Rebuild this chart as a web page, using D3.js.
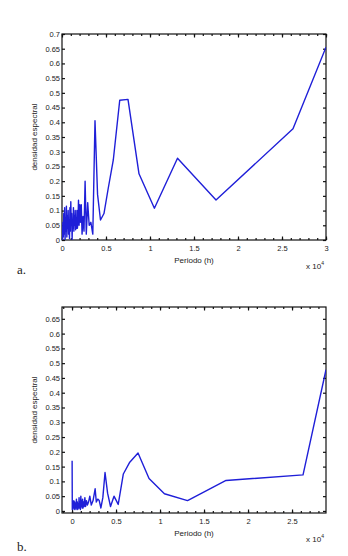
<!DOCTYPE html>
<html lang="es">
<head>
<meta charset="UTF-8">
<title>densidad espectral</title>
<script src="https://d3js.org/d3.v7.min.js"></script>
<style>
  body { margin: 0; background: #fff; }
  text { font-family: "Liberation Sans", Arial, sans-serif; fill: #222; }
  .tick text { font-size: 7.5px; }
  .lbl { font-size: 8px; }
  .panel { font-family: "Liberation Serif", "DejaVu Serif", serif; font-size: 13px; }
</style>
</head>
<body>
<svg width="348" height="556"></svg>
<script>
// periodo (x 10^4 h) y densidad espectral
const periodoA = [0.005, 0.01, 0.015, 0.02, 0.025, 0.03, 0.035, 0.04, 0.045, 0.05, 0.055, 0.06, 0.065, 0.07, 0.075, 0.08, 0.085, 0.09, 0.095, 0.1, 0.105, 0.11, 0.115, 0.12, 0.125, 0.13, 0.135, 0.14, 0.145, 0.15, 0.155, 0.16, 0.165, 0.17, 0.175, 0.181, 0.1875, 0.194, 0.202, 0.21, 0.219, 0.228, 0.239, 0.25, 0.2625, 0.276, 0.292, 0.309, 0.328, 0.35, 0.375, 0.404, 0.4375, 0.477, 0.525, 0.583, 0.656, 0.75, 0.875, 1.05, 1.3125, 1.75, 2.625, 3.0];
const densidadA = [0.0, 0.06, 0.01, 0.09, 0.02, 0.11, 0.0, 0.07, 0.03, 0.115, 0.01, 0.08, 0.04, 0.1, 0.02, 0.06, 0.005, 0.11, 0.03, 0.13, 0.05, 0.09, 0.0, 0.07, 0.04, 0.11, 0.03, 0.08, 0.05, 0.1, 0.035, 0.075, 0.04, 0.1, 0.04, 0.06, 0.135, 0.05, 0.12, 0.06, 0.12, 0.02, 0.08, 0.03, 0.2, 0.02, 0.127, 0.05, 0.06, 0.02, 0.405, 0.155, 0.068, 0.09, 0.175, 0.272, 0.475, 0.478, 0.225, 0.108, 0.278, 0.136, 0.378, 0.655];

const periodoB = [0.001, 0.003, 0.01, 0.015, 0.02, 0.025, 0.03, 0.035, 0.04, 0.045, 0.05, 0.055, 0.06, 0.065, 0.07, 0.075, 0.08, 0.085, 0.09, 0.095, 0.1, 0.105, 0.11, 0.115, 0.12, 0.125, 0.13, 0.138, 0.146, 0.154, 0.164, 0.175, 0.1875, 0.202, 0.219, 0.239, 0.2625, 0.276, 0.292, 0.309, 0.328, 0.35, 0.375, 0.404, 0.4375, 0.477, 0.525, 0.583, 0.656, 0.75, 0.875, 1.05, 1.3125, 1.75, 2.625, 2.886];
const densidadB = [0.17, 0.005, 0.03, 0.01, 0.035, 0.005, 0.03, 0.01, 0.025, 0.005, 0.04, 0.01, 0.03, 0.005, 0.025, 0.01, 0.045, 0.01, 0.03, 0.005, 0.05, 0.015, 0.035, 0.01, 0.04, 0.01, 0.03, 0.015, 0.045, 0.015, 0.035, 0.02, 0.03, 0.05, 0.02, 0.035, 0.075, 0.03, 0.04, 0.035, 0.01, 0.045, 0.13, 0.06, 0.015, 0.05, 0.022, 0.125, 0.165, 0.196, 0.11, 0.058, 0.035, 0.103, 0.122, 0.478];

const yTicksA = [0, 0.05, 0.1, 0.15, 0.2, 0.25, 0.3, 0.35, 0.4, 0.45, 0.5, 0.55, 0.6, 0.65, 0.7];
const yTicksB = [0, 0.05, 0.1, 0.15, 0.2, 0.25, 0.3, 0.35, 0.4, 0.45, 0.5, 0.55, 0.6, 0.65];
const xTicksA = [0, 0.5, 1, 1.5, 2, 2.5, 3];
const xTicksB = [0, 0.5, 1, 1.5, 2, 2.5];

const svg = d3.select("svg");

function panel(cfg) {
  const { left, right, top, bottom } = cfg;
  const x = d3.scaleLinear().domain(cfg.xDom).range([left, right]);
  const y = d3.scaleLinear().domain(cfg.yDom).range([bottom, top]);
  const g = svg.append("g");
  const fmt = d => d3.format("")(+d.toFixed(2));

  // minor x ticks
  const minor = d3.range(Math.ceil(cfg.xDom[0] * 10), Math.floor(cfg.xDom[1] * 10) + 1).map(v => v / 10);
  g.append("g").attr("transform", `translate(0,${bottom})`)
    .call(d3.axisBottom(x).tickValues(minor).tickSize(-2).tickFormat(""));
  g.append("g").attr("transform", `translate(0,${top})`)
    .call(d3.axisTop(x).tickValues(minor).tickSize(-2).tickFormat(""));

  // ejes principales
  g.append("g").attr("transform", `translate(0,${bottom})`)
    .call(d3.axisBottom(x).tickValues(cfg.xTicks).tickSize(-3.5).tickPadding(6).tickFormat(fmt));
  g.append("g").attr("transform", `translate(0,${top})`)
    .call(d3.axisTop(x).tickValues(cfg.xTicks).tickSize(-3.5).tickFormat(""));
  g.append("g").attr("transform", `translate(${left},0)`)
    .call(d3.axisLeft(y).tickValues(cfg.yTicks).tickSize(-3).tickPadding(2).tickFormat(fmt));
  g.append("g").attr("transform", `translate(${right},0)`)
    .call(d3.axisRight(y).tickValues(cfg.yTicks).tickSize(-3).tickFormat(""));
  g.selectAll(".domain").remove();
  g.selectAll(".tick line").attr("stroke", "#111").attr("stroke-width", 1.2);

  g.append("rect").attr("x", left).attr("y", top)
    .attr("width", right - left).attr("height", bottom - top)
    .attr("fill", "none").attr("stroke", "#111").attr("stroke-width", 1.2);

  const clipId = "clip" + cfg.id;
  svg.append("clipPath").attr("id", clipId).append("rect")
    .attr("x", left).attr("y", top).attr("width", right - left).attr("height", bottom - top);

  const line = d3.line().x(d => x(d[0])).y(d => y(d[1]));
  g.append("path")
    .datum(d3.zip(cfg.px, cfg.py))
    .attr("clip-path", `url(#${clipId})`)
    .attr("fill", "none")
    .attr("stroke", "#1f1fd8")
    .attr("stroke-width", 1.4)
    .attr("stroke-linejoin", "round")
    .attr("d", line);

  g.append("text").attr("class", "lbl")
    .attr("x", (left + right) / 2).attr("y", cfg.xLabelY)
    .attr("text-anchor", "middle").text("Periodo (h)");
  g.append("text").attr("class", "lbl")
    .attr("transform", `translate(37,${cfg.yLabelY}) rotate(-90)`)
    .attr("text-anchor", "middle").text("densidad espectral");
  const e = g.append("text").attr("class", "lbl").attr("x", 306).attr("y", cfg.xLabelY + 6);
  e.append("tspan").text("x 10");
  e.append("tspan").attr("dy", -4).style("font-size", "5px").text("4");
  g.append("text").attr("class", "panel")
    .attr("x", 17).attr("y", cfg.panelY).text(cfg.name);
}

panel({ id: "a", left: 62, right: 326, top: 34, bottom: 240,
  xDom: [0, 3], yDom: [0, 0.7], xTicks: xTicksA, yTicks: yTicksA,
  px: periodoA, py: densidadA, xLabelY: 263, yLabelY: 137, panelY: 274, name: "a." });

panel({ id: "b", left: 62, right: 326, top: 307, bottom: 513,
  xDom: [-0.114, 2.886], yDom: [-0.007, 0.69], xTicks: xTicksB, yTicks: yTicksB,
  px: periodoB, py: densidadB, xLabelY: 536, yLabelY: 410, panelY: 551, name: "b." });
</script>
</body>
</html>
